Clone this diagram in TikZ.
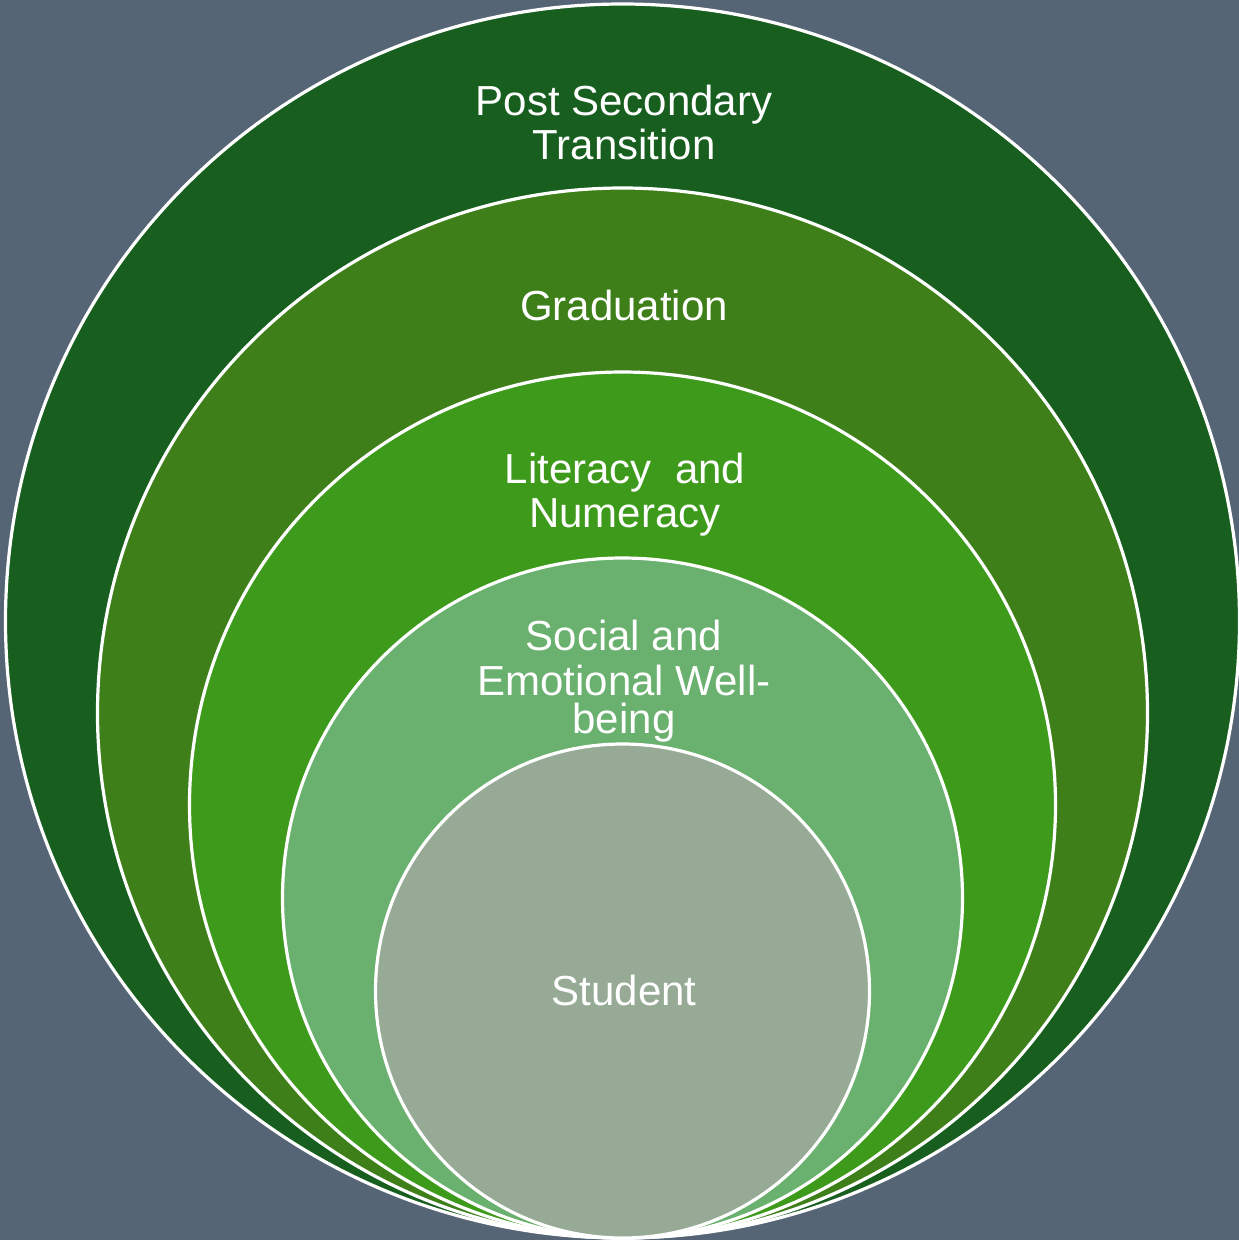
\documentclass[tikz,border=0pt]{standalone}
\usepackage{fontspec}
\setmainfont{Liberation Sans}
\definecolor{bg}{HTML}{556575}
\definecolor{ringA}{HTML}{175E1F}
\definecolor{ringB}{HTML}{3F7F1A}
\definecolor{ringC}{HTML}{3D9A1B}
\definecolor{ringD}{HTML}{6AB06E}
\definecolor{ringE}{HTML}{97AA96}
\begin{document}
\begin{tikzpicture}[x=1pt,y=-1pt,
  layer/.style={circle, draw=white, line width=3.2pt, inner sep=0pt, outer sep=0pt},
  lbl/.style={text=white, anchor=base, inner sep=0pt, font=\fontsize{42}{45}\selectfont}]
\fill[bg] (0,0) rectangle (1239,1240);
\useasboundingbox (0,0) rectangle (1239,1240);
\node[layer, fill=ringA, minimum size=1234pt] (c1) at (622.5,621) {};
\node[lbl] (t1a) at (624,115) {Post Secondary};
\node[lbl] (t1b) at (624,159) {Transition};
\node[layer, fill=ringB, minimum size=1050pt] (c2) at (622.5,713) {};
\node[lbl] (t2) at (624,320) {Graduation};
\node[layer, fill=ringC, minimum size=866pt] (c3) at (622.5,805) {};
\node[lbl] (t3a) at (625,483) {Literacy\ \ and};
\node[lbl] (t3b) at (625,527) {Numeracy};
\node[layer, fill=ringD, minimum size=680pt] (c4) at (622.5,898) {};
\node[lbl] (t4a) at (624,650) {Social and};
\node[lbl] (t4b) at (624,695) {Emotional Well-};
\node[lbl] (t4c) at (624,733) {being};
\node[layer, fill=ringE, minimum size=494pt] (c5) at (622.5,991) {};
\node[lbl] (t5) at (624,1005) {Student};
\end{tikzpicture}
\end{document}
